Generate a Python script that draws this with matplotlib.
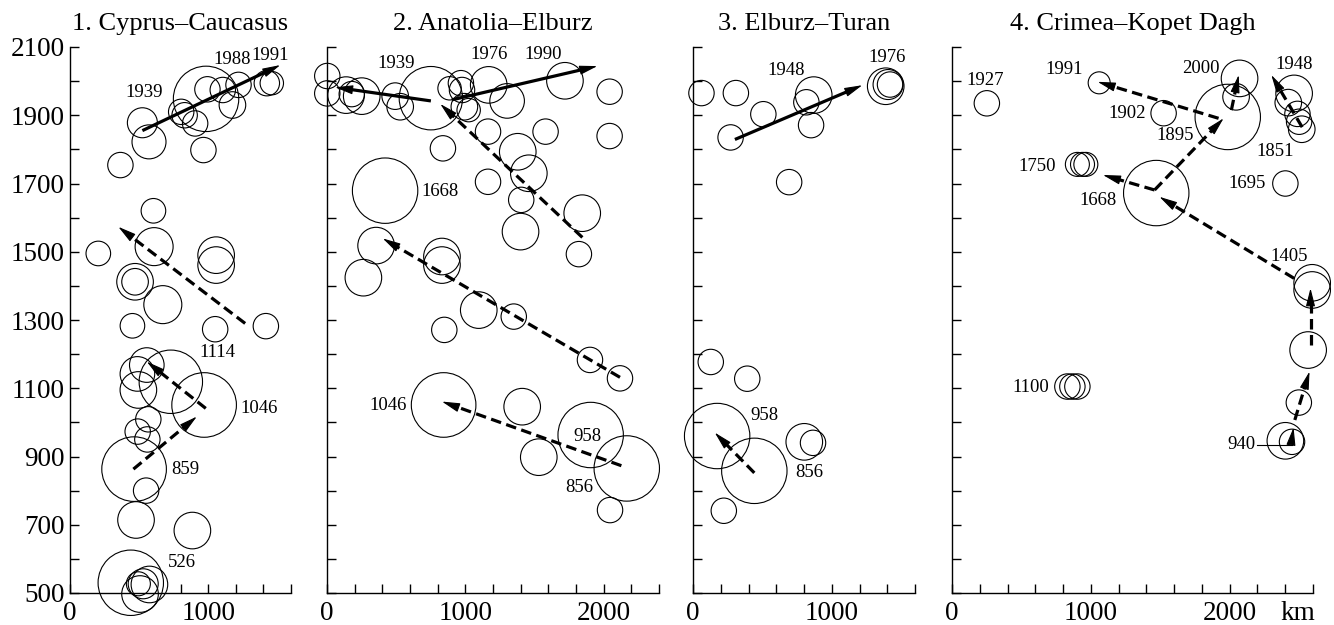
import numpy as np
import matplotlib
matplotlib.use("Agg")
import matplotlib.pyplot as plt
from matplotlib.transforms import offset_copy

plt.rcParams['font.family'] = ['Liberation Serif', 'DejaVu Serif']

# ---------------- data ----------------
# Each panel: epicentre distance along the zone (km), year, circle radius class
titles = ["1. Cyprus\u2013Caucasus", "2. Anatolia\u2013Elburz",
          "3. Elburz\u2013Turan", "4. Crimea\u2013Kopet Dagh"]
x_max = [1600, 2400, 1600, 2600]

p1_km = [524, 572, 365, 805, 830, 906, 985, 995, 1106, 1220, 1176, 1425, 1461, 966,
         604, 609, 205, 471, 471, 672, 1058, 1058, 452, 1051, 1418, 556, 488, 495,
         730, 971, 567, 490, 560, 464, 551, 478, 886, 440, 495, 530, 575, 507]
p1_yr = [1878, 1822, 1754, 1910, 1900, 1876, 1948, 1976, 1974, 1989, 1930, 1994, 1994, 1798,
         1620, 1515, 1495, 1412, 1412, 1345, 1490, 1461, 1283, 1273, 1282, 1168, 1142, 1095,
         1119, 1051, 1009, 973, 950, 863, 800, 714, 683, 530, 527, 527, 525, 497]
p1_r = [15, 17, 12.7, 12.7, 12.7, 12.7, 32.7, 12.7, 12.7, 12.7, 13.3, 12.7, 11.7, 12.7,
        12.3, 19, 12.3, 18.3, 13.3, 19, 18.3, 18.3, 12.3, 12.7, 12.7, 17.3, 17.3, 18.3,
        31.7, 32.3, 12.7, 12.7, 12.7, 32.3, 12.7, 18.3, 18.3, 32.7, 12, 15, 18.3, 18.3]

p2_km = [2, 2, 138, 179, 251, 493, 529, 751, 838, 886, 968, 976, 993, 1024, 1169, 1302,
         1164, 1580, 1720, 2043, 2043, 1379, 1459, 1164, 1404, 1399, 1845, 1821, 420,
         355, 263, 831, 831, 1097, 1350, 848, 1901, 2118, 843, 1411, 1531, 1906, 2167, 2046]
p2_yr = [2015, 1964, 1959, 1962, 1956, 1956, 1925, 1950, 1803, 1979, 1994, 1974, 1925, 1915,
         1989, 1942, 1852, 1852, 2001, 1969, 1839, 1793, 1730, 1705, 1652, 1559, 1613, 1493,
         1679, 1518, 1424, 1486, 1461, 1329, 1310, 1271, 1183, 1129, 1051, 1046, 898, 963,
         865, 743]
p2_r = [12.7, 12.7, 18.3, 12.7, 18.3, 13.3, 13.3, 31.7, 12.7, 11.7, 12.7, 12.7, 13.3, 11.7,
        18.3, 17.3, 12.7, 12.7, 18.3, 12.7, 12.7, 18.3, 18.3, 12.7, 12.7, 18.3, 18.3, 12.7,
        32.7, 18.3, 18.3, 18.3, 18.3, 18.3, 12.7, 12.7, 12.7, 12.7, 32.3, 18.3, 18.3, 32.7,
        32.7, 12.7]

p3_km = [61, 309, 507, 271, 870, 817, 851, 693, 1389, 1406, 1420, 128, 391, 174, 442,
         802, 865, 222]
p3_yr = [1965, 1965, 1903, 1835, 1959, 1938, 1871, 1704, 1985, 1990, 1990, 1177, 1128,
         960, 858, 943, 940, 741]
p3_r = [12.7, 12.7, 12.7, 12.7, 18.3, 12.7, 12.7, 12.7, 18.3, 15, 12.7, 12.7, 12.7,
        32.7, 32.7, 18.3, 12.7, 12.7]

p4_km = [251, 1060, 1524, 2071, 2046, 1986, 2464, 2422, 2488, 2500, 2519, 2401, 903, 940,
         964, 1471, 2594, 2594, 2565, 2498, 2401, 2449, 831, 867, 903]
p4_yr = [1935, 1995, 1906, 2008, 1954, 1895, 1964, 1937, 1904, 1881, 1859, 1700, 1756,
         1756, 1756, 1672, 1409, 1388, 1212, 1058, 946, 943, 1105, 1105, 1105]
p4_r = [12.7, 11, 12.7, 18.3, 13.3, 32.7, 18.3, 13.3, 12.7, 12.7, 13.3, 12.7, 12, 12,
        12, 32.7, 18.3, 18.3, 18.3, 12.7, 18.3, 12.7, 12.7, 12.7, 12.7]

# migration arrows: (km_start, year_start, km_end, year_end, dashed)
p1_arrows = [(524, 1855, 1522, 2047, False),
             (1268, 1290, 350, 1573, True),
             (983, 1041, 556, 1178, True),
             (459, 863, 918, 1017, True)]
p2_arrows = [(751, 1942, 58, 1982, False),
             (902, 1945, 1954, 2044, False),
             (1846, 1542, 819, 1933, True),
             (2118, 1132, 403, 1539, True),
             (2128, 873, 831, 1061, True)]
p3_arrows = [(302, 1829, 1220, 1988, False),
             (442, 852, 157, 970, True)]
p4_arrows = [(1920, 1891, 1049, 1998, True),
             (2012, 1915, 2065, 2018, True),
             (1459, 1681, 1956, 1891, True),
             (1459, 1681, 1087, 1725, True),
             (2464, 1422, 1494, 1661, True),
             (2522, 1865, 2300, 2018, True),
             (2582, 1227, 2582, 1393, True),
             (2469, 1007, 2575, 1149, True),
             (2449, 955, 2460, 985, True)]

# year labels: (text, km, year)
p1_labels = [("1939", 537, 1968), ("1988", 1175, 2064), ("1991", 1450, 2076),
             ("1114", 1066, 1206), ("1046", 1372, 1042), ("859", 833, 863),
             ("526", 810, 588)]
p2_labels = [("1939", 500, 2052), ("1976", 1169, 2077), ("1990", 1560, 2077),
             ("1668", 816, 1676), ("1046", 439, 1048), ("958", 1886, 958),
             ("856", 1821, 810)]
p3_labels = [("1948", 672, 2032), ("1976", 1396, 2070), ("958", 512, 1020),
             ("856", 841, 852)]
p4_labels = [("1927", 241, 2003), ("1991", 806, 2033), ("1902", 1261, 1906),
             ("2000", 1793, 2038), ("1948", 2464, 2049), ("1895", 1605, 1842),
             ("1851", 2328, 1793), ("1750", 614, 1749), ("1695", 2123, 1700),
             ("1668", 1049, 1649), ("1405", 2431, 1485), ("1100", 565, 1103),
             ("940", 2087, 935)]

year_ticks = list(range(500, 2101, 100))
year_labels = [str(y) if (y - 500) % 200 == 0 else "" for y in year_ticks]

panels = [
    (p1_km, p1_yr, p1_r, p1_arrows, p1_labels),
    (p2_km, p2_yr, p2_r, p2_arrows, p2_labels),
    (p3_km, p3_yr, p3_r, p3_arrows, p3_labels),
    (p4_km, p4_yr, p4_r, p4_arrows, p4_labels),
]

# ---------------- figure ----------------
W, H = 1334, 625
fig = plt.figure(figsize=(W / 100, H / 100), dpi=100)
px_left = [70, 327, 693, 952]
px_right = [291, 659, 915, 1313]
y_top, y_bot = 47, 593

LW = 2.3          # arrow shaft width (pt)
HEAD_LEN = 11.0   # arrow head length (pt)
HEAD_HW = 2.8     # arrow head half-width (pt)
TICK_FS = 19.5
TITLE_FS = 19
NOTE_FS = 13.5


def draw_arrow(ax, x0, y0, x1, y1, dashed):
    p0 = ax.transData.transform((x0, y0))
    p1 = ax.transData.transform((x1, y1))
    d = p1 - p0
    u = d / np.hypot(*d)
    head_px = HEAD_LEN * 100 / 72
    base = ax.transData.inverted().transform(p1 - u * head_px * 0.85)
    kw = dict(color='k', lw=LW, solid_capstyle='butt', clip_on=False, zorder=3)
    if dashed:
        ax.plot([x0, base[0]], [y0, base[1]], dashes=(3.3, 1.7),
                dash_capstyle='butt', **kw)
    else:
        ax.plot([x0, base[0]], [y0, base[1]], **kw)
    ax.annotate('', xy=(x1, y1), xytext=(-u[0] * HEAD_LEN, -u[1] * HEAD_LEN),
                textcoords='offset points',
                arrowprops=dict(arrowstyle=f'-|>,head_length={HEAD_LEN},head_width={HEAD_HW}',
                                mutation_scale=1, lw=0.8, color='k',
                                shrinkA=0, shrinkB=0),
                annotation_clip=False, zorder=4)


axes = []
for i, (km, yr, rr, arrows, labels) in enumerate(panels):
    left = px_left[i] / W
    width = (px_right[i] - px_left[i]) / W
    bottom = 1 - y_bot / H
    height = (y_bot - y_top) / H
    ax = fig.add_axes([left, bottom, width, height])
    ax.set_xlim(0, x_max[i])
    ax.set_ylim(500, 2100)
    for s in ('top', 'right'):
        ax.spines[s].set_visible(False)
    for s in ('left', 'bottom'):
        ax.spines[s].set_linewidth(1.0)

    ax.set_yticks(year_ticks)
    ax.set_yticklabels(year_labels if i == 0 else [""] * len(year_ticks))

    xt = list(range(0, x_max[i] + 1, 200))
    if i == 0:
        xt = [0] + list(range(800, x_max[i] + 1, 200))
    xl = [str(v) if v % 1000 == 0 else "" for v in xt]
    ax.set_xticks(xt)
    ax.set_xticklabels(xl)
    ax.tick_params(direction='in', length=6.5, width=1.0, labelsize=TICK_FS)
    ax.tick_params(axis='x', pad=6)
    ax.tick_params(axis='y', pad=4)

    ax.set_title(titles[i], fontsize=TITLE_FS, pad=12)

    sizes = [(1.44 * r) ** 2 for r in rr]
    ax.scatter(km, yr, s=sizes, facecolors='none', edgecolors='k',
               linewidths=0.8, clip_on=False, zorder=2)

    for (x0, y0, x1, y1, dashed) in arrows:
        draw_arrow(ax, x0, y0, x1, y1, dashed)

    for (t, x, y) in labels:
        ax.text(x, y, t, fontsize=NOTE_FS, ha='center', va='center', zorder=5)

    axes.append(ax)

# leader line for the 940 event and the distance unit
ax4 = axes[3]
ax4.plot([2195, 2449], [935, 935], color='k', lw=0.8, zorder=2)
km_trans = offset_copy(ax4.get_xaxis_transform(), fig=fig, y=-6, units='points')
ax4.text(2490, 0, "km", transform=km_trans, fontsize=TICK_FS, ha='center', va='top')

fig.savefig("out.png", dpi=100)
